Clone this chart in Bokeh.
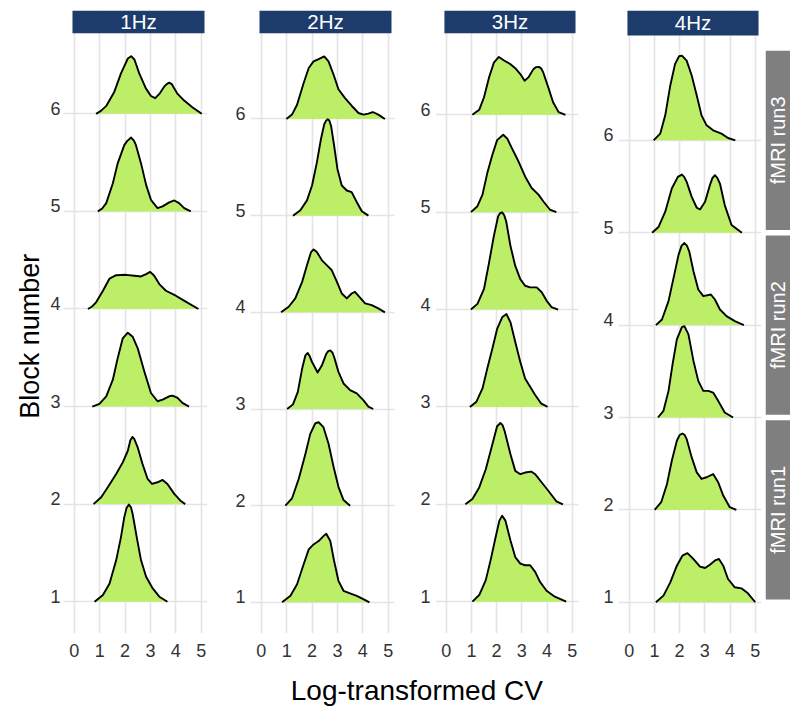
import numpy as np
from bokeh.plotting import figure
from bokeh.models import Range1d, FixedTicker, CustomJSTickFormatter
from bokeh.layouts import row, column
from bokeh.embed import file_html
from bokeh.resources import INLINE
from bokeh.core.properties import value

# ---------------------------------------------------------------- data
FREQS = ["1Hz", "2Hz", "3Hz", "4Hz"]
BLOCKS = [1, 2, 3, 4, 5, 6]
X_TICKS = [0, 1, 2, 3, 4, 5]
RUNS = ["fMRI run1", "fMRI run2", "fMRI run3"]
RUN_LO = [1, 3, 5]
RUN_HI = [3, 5, 7]

# density ridges: log-CV positions and ridge height (in block units)
hz1_b6_x = [0.86, 1.05, 1.26, 1.58, 1.84, 2.11, 2.24, 2.37, 2.56, 2.82, 3.02, 3.19, 3.37, 3.54, 3.64, 3.74, 3.84, 3.90, 4.07, 4.33, 4.65, 5.02]
hz1_b6_h = [0, 0.03, 0.081, 0.227, 0.414, 0.567, 0.591, 0.557, 0.414, 0.261, 0.183, 0.160, 0.210, 0.278, 0.305, 0.319, 0.305, 0.278, 0.204, 0.136, 0.068, 0]
hz1_b5_x = [0.93, 1.10, 1.26, 1.52, 1.71, 1.97, 2.08, 2.24, 2.35, 2.43, 2.63, 2.83, 3.02, 3.28, 3.48, 3.74, 3.94, 4.13, 4.33, 4.59]
hz1_b5_h = [0, 0.03, 0.085, 0.289, 0.492, 0.679, 0.72, 0.757, 0.725, 0.679, 0.492, 0.272, 0.119, 0.034, 0.051, 0.092, 0.112, 0.085, 0.034, 0]
hz1_b4_x = [0.54, 0.70, 0.86, 1.13, 1.39, 1.65, 2.04, 2.37, 2.63, 2.83, 2.99, 3.15, 3.35, 3.61, 4.00, 4.39, 4.89]
hz1_b4_h = [0, 0.025, 0.068, 0.187, 0.312, 0.346, 0.350, 0.340, 0.333, 0.357, 0.380, 0.340, 0.255, 0.187, 0.136, 0.075, 0]
hz1_b3_x = [0.71, 0.99, 1.26, 1.52, 1.71, 1.91, 2.11, 2.30, 2.50, 2.76, 3.02, 3.28, 3.48, 3.74, 3.87, 4.07, 4.26, 4.52]
hz1_b3_h = [0, 0.027, 0.105, 0.275, 0.496, 0.699, 0.757, 0.716, 0.597, 0.360, 0.139, 0.054, 0.071, 0.105, 0.112, 0.088, 0.037, 0]
hz1_b2_x = [0.76, 1.06, 1.32, 1.65, 1.91, 2.11, 2.21, 2.29, 2.37, 2.50, 2.69, 2.89, 3.06, 3.28, 3.48, 3.67, 3.94, 4.20, 4.37]
hz1_b2_h = [0, 0.071, 0.173, 0.309, 0.428, 0.547, 0.655, 0.689, 0.665, 0.580, 0.410, 0.258, 0.207, 0.224, 0.248, 0.207, 0.105, 0.031, 0]
hz1_b1_x = [0.80, 1.13, 1.39, 1.65, 1.84, 1.97, 2.06, 2.15, 2.23, 2.30, 2.46, 2.63, 2.83, 3.09, 3.35, 3.67]
hz1_b1_h = [0, 0.068, 0.187, 0.424, 0.662, 0.866, 0.960, 0.995, 0.970, 0.899, 0.662, 0.424, 0.255, 0.136, 0.051, 0]

hz2_b6_x = [0.99, 1.21, 1.41, 1.67, 1.87, 2.06, 2.26, 2.48, 2.65, 2.85, 3.04, 3.30, 3.56, 3.83, 4.02, 4.22, 4.39, 4.61, 4.87]
hz2_b6_h = [0, 0.045, 0.147, 0.372, 0.527, 0.596, 0.620, 0.647, 0.596, 0.457, 0.308, 0.216, 0.137, 0.062, 0.045, 0.055, 0.072, 0.045, 0]
hz2_b5_x = [1.25, 1.54, 1.80, 2.00, 2.19, 2.35, 2.48, 2.56, 2.62, 2.68, 2.75, 2.87, 3.00, 3.17, 3.37, 3.56, 3.76, 3.96, 4.22]
hz2_b5_h = [0, 0.055, 0.158, 0.312, 0.551, 0.791, 0.945, 0.985, 0.997, 0.985, 0.928, 0.723, 0.483, 0.312, 0.260, 0.243, 0.141, 0.045, 0]
hz2_b4_x = [0.78, 1.08, 1.34, 1.61, 1.80, 1.96, 2.06, 2.19, 2.39, 2.59, 2.78, 2.98, 3.17, 3.37, 3.56, 3.69, 3.89, 4.09, 4.35, 4.61, 4.87]
hz2_b4_h = [0, 0.058, 0.144, 0.315, 0.486, 0.623, 0.651, 0.623, 0.538, 0.486, 0.435, 0.315, 0.195, 0.144, 0.195, 0.212, 0.151, 0.092, 0.075, 0.041, 0]
hz2_b3_x = [1.02, 1.25, 1.44, 1.61, 1.74, 1.83, 1.91, 2.00, 2.22, 2.39, 2.56, 2.64, 2.72, 2.80, 2.87, 3.04, 3.24, 3.50, 3.76, 4.02, 4.22, 4.41]
hz2_b3_h = [0, 0.048, 0.178, 0.418, 0.555, 0.579, 0.545, 0.486, 0.377, 0.452, 0.571, 0.598, 0.606, 0.585, 0.538, 0.384, 0.264, 0.195, 0.161, 0.092, 0.024, 0]
hz2_b2_x = [0.95, 1.21, 1.48, 1.74, 1.93, 2.13, 2.26, 2.45, 2.65, 2.85, 3.04, 3.24, 3.50]
hz2_b2_h = [0, 0.075, 0.281, 0.538, 0.743, 0.853, 0.863, 0.812, 0.640, 0.401, 0.195, 0.058, 0]
hz2_b1_x = [0.82, 1.15, 1.41, 1.67, 1.87, 2.06, 2.26, 2.45, 2.56, 2.72, 2.87, 3.04, 3.24, 3.50, 3.76, 4.02, 4.26]
hz2_b1_h = [0, 0.068, 0.188, 0.394, 0.548, 0.599, 0.634, 0.685, 0.709, 0.634, 0.428, 0.223, 0.120, 0.092, 0.068, 0.034, 0]

hz3_b6_x = [1.04, 1.31, 1.50, 1.70, 1.89, 2.09, 2.28, 2.55, 2.74, 2.94, 3.11, 3.26, 3.46, 3.57, 3.68, 3.77, 3.85, 4.05, 4.24, 4.46, 4.73]
hz3_b6_h = [0, 0.051, 0.180, 0.384, 0.535, 0.594, 0.560, 0.520, 0.479, 0.418, 0.350, 0.384, 0.469, 0.490, 0.492, 0.475, 0.435, 0.282, 0.129, 0.027, 0]
hz3_b5_x = [0.98, 1.24, 1.44, 1.63, 1.83, 2.02, 2.26, 2.42, 2.61, 2.87, 3.13, 3.39, 3.66, 3.85, 4.11, 4.37]
hz3_b5_h = [0, 0.061, 0.180, 0.401, 0.587, 0.740, 0.795, 0.757, 0.655, 0.520, 0.367, 0.248, 0.180, 0.112, 0.027, 0]
hz3_b4_x = [0.98, 1.24, 1.50, 1.70, 1.89, 2.06, 2.14, 2.22, 2.30, 2.38, 2.55, 2.74, 2.94, 3.13, 3.33, 3.59, 3.79, 3.98, 4.18, 4.44]
hz3_b4_h = [0, 0.058, 0.211, 0.482, 0.754, 0.958, 0.990, 0.998, 0.970, 0.907, 0.652, 0.448, 0.312, 0.244, 0.228, 0.228, 0.177, 0.092, 0.024, 0]
hz3_b3_x = [0.94, 1.20, 1.44, 1.63, 1.83, 2.02, 2.22, 2.39, 2.55, 2.74, 2.94, 3.13, 3.33, 3.53, 3.76, 4.02]
hz3_b3_h = [0, 0.054, 0.190, 0.394, 0.598, 0.801, 0.920, 0.954, 0.869, 0.666, 0.462, 0.292, 0.207, 0.122, 0.037, 0]
hz3_b2_x = [0.76, 1.04, 1.31, 1.57, 1.83, 2.02, 2.15, 2.24, 2.32, 2.55, 2.74, 2.94, 3.13, 3.37, 3.53, 3.79, 4.05, 4.37, 4.63]
hz3_b2_h = [0, 0.054, 0.173, 0.360, 0.615, 0.801, 0.835, 0.810, 0.750, 0.513, 0.343, 0.309, 0.326, 0.336, 0.309, 0.224, 0.139, 0.031, 0]
hz3_b1_x = [1.04, 1.31, 1.57, 1.76, 1.96, 2.11, 2.22, 2.35, 2.55, 2.74, 2.94, 3.13, 3.33, 3.53, 3.72, 3.98, 4.31, 4.76]
hz3_b1_h = [0, 0.068, 0.221, 0.424, 0.662, 0.832, 0.883, 0.832, 0.628, 0.458, 0.391, 0.374, 0.374, 0.306, 0.204, 0.112, 0.051, 0]

hz4_b6_x = [0.97, 1.23, 1.43, 1.63, 1.82, 1.98, 2.09, 2.28, 2.48, 2.68, 2.87, 3.07, 3.33, 3.66, 3.92, 4.21]
hz4_b6_h = [0, 0.072, 0.270, 0.594, 0.827, 0.910, 0.917, 0.863, 0.701, 0.486, 0.270, 0.162, 0.108, 0.072, 0.025, 0]
hz4_b5_x = [0.91, 1.17, 1.43, 1.69, 1.93, 2.09, 2.18, 2.28, 2.48, 2.68, 2.81, 3.01, 3.20, 3.30, 3.40, 3.50, 3.60, 3.79, 4.06, 4.47]
hz4_b5_h = [0, 0.065, 0.227, 0.478, 0.604, 0.629, 0.605, 0.550, 0.388, 0.270, 0.252, 0.335, 0.514, 0.590, 0.622, 0.590, 0.532, 0.299, 0.083, 0]
hz4_b4_x = [1.06, 1.30, 1.56, 1.76, 1.96, 2.08, 2.19, 2.29, 2.38, 2.55, 2.74, 2.94, 3.24, 3.40, 3.60, 3.86, 4.19, 4.55]
hz4_b4_h = [0, 0.061, 0.259, 0.511, 0.763, 0.860, 0.888, 0.860, 0.799, 0.583, 0.385, 0.313, 0.331, 0.277, 0.169, 0.097, 0.043, 0]
hz4_b3_x = [1.14, 1.36, 1.56, 1.72, 1.89, 2.09, 2.19, 2.35, 2.55, 2.74, 2.94, 3.14, 3.33, 3.53, 3.79, 4.12]
hz4_b3_h = [0, 0.072, 0.288, 0.576, 0.845, 0.978, 0.989, 0.899, 0.612, 0.396, 0.288, 0.288, 0.270, 0.180, 0.054, 0]
hz4_b2_x = [1.01, 1.27, 1.50, 1.69, 1.89, 2.00, 2.11, 2.20, 2.28, 2.48, 2.68, 2.87, 3.07, 3.33, 3.53, 3.73, 3.99, 4.25]
hz4_b2_h = [0, 0.083, 0.281, 0.532, 0.748, 0.810, 0.827, 0.810, 0.766, 0.568, 0.406, 0.335, 0.353, 0.388, 0.299, 0.155, 0.029, 0]
hz4_b1_x = [1.06, 1.36, 1.63, 1.89, 2.11, 2.31, 2.55, 2.81, 3.01, 3.20, 3.43, 3.56, 3.73, 3.92, 4.19, 4.45, 4.71, 5.00]
hz4_b1_h = [0, 0.072, 0.216, 0.396, 0.504, 0.532, 0.468, 0.385, 0.371, 0.406, 0.457, 0.468, 0.396, 0.252, 0.162, 0.151, 0.097, 0]

RIDGES = {
    "1Hz": {1: (hz1_b1_x, hz1_b1_h), 2: (hz1_b2_x, hz1_b2_h), 3: (hz1_b3_x, hz1_b3_h),
            4: (hz1_b4_x, hz1_b4_h), 5: (hz1_b5_x, hz1_b5_h), 6: (hz1_b6_x, hz1_b6_h)},
    "2Hz": {1: (hz2_b1_x, hz2_b1_h), 2: (hz2_b2_x, hz2_b2_h), 3: (hz2_b3_x, hz2_b3_h),
            4: (hz2_b4_x, hz2_b4_h), 5: (hz2_b5_x, hz2_b5_h), 6: (hz2_b6_x, hz2_b6_h)},
    "3Hz": {1: (hz3_b1_x, hz3_b1_h), 2: (hz3_b2_x, hz3_b2_h), 3: (hz3_b3_x, hz3_b3_h),
            4: (hz3_b4_x, hz3_b4_h), 5: (hz3_b5_x, hz3_b5_h), 6: (hz3_b6_x, hz3_b6_h)},
    "4Hz": {1: (hz4_b1_x, hz4_b1_h), 2: (hz4_b2_x, hz4_b2_h), 3: (hz4_b3_x, hz4_b3_h),
            4: (hz4_b4_x, hz4_b4_h), 5: (hz4_b5_x, hz4_b5_h), 6: (hz4_b6_x, hz4_b6_h)},
}

# ---------------------------------------------------------------- style
FONT = "Liberation Sans"
FILL = "#BCEE68"
NAVY = "#1d3c6b"
STRIP_GREY = "#7f7f7f"
GRID = "#e4e4e4"
TICK_TEXT = "#333333"
# panel x range: the block grid lines run a little past the strip on both sides
X_RANGE = (-0.424, 5.248)
STRIP_X = (-0.07, 5.13)
FIG_H = 672
LABEL_LIFT_PX = 5.5   # block labels sit on top of their grid line

# per-panel geometry: width, left/right/top/bottom borders, y range,
# strip height (px), block label standoff (px)
PANELS = {
    "1Hz": dict(w=186, l=19, r=23, t=10, b=35, y=(0.674, 7.059), strip=23, so=3),
    "2Hz": dict(w=187, l=20, r=23, t=10, b=35, y=(0.678, 7.122), strip=23, so=5),
    "3Hz": dict(w=183, l=17, r=22, t=10, b=35, y=(0.673, 7.071), strip=23, so=5),
    "4Hz": dict(w=162, l=17, r=1, t=8, b=39, y=(0.662, 7.405), strip=25, so=5),
}


def panel(freq):
    g = PANELS[freq]
    y0, y1 = g["y"]
    frame_h = FIG_H - g["t"] - g["b"]
    units_per_px = (y1 - y0) / frame_h

    p = figure(width=g["w"], height=FIG_H, x_range=Range1d(*X_RANGE), y_range=Range1d(y0, y1),
               output_backend="svg", toolbar_location=None,
               min_border_left=g["l"], min_border_right=g["r"],
               min_border_top=g["t"], min_border_bottom=g["b"])
    p.outline_line_color = None
    p.background_fill_color = "white"
    p.border_fill_color = "white"

    p.xaxis.ticker = FixedTicker(ticks=X_TICKS)
    p.xgrid.ticker = FixedTicker(ticks=X_TICKS)
    p.ygrid.ticker = FixedTicker(ticks=BLOCKS)
    # block labels are lifted so they rest on the grid line
    p.yaxis.ticker = FixedTicker(ticks=[b + LABEL_LIFT_PX * units_per_px for b in BLOCKS])
    p.yaxis.formatter = CustomJSTickFormatter(code="return Math.round(tick).toString();")

    for grid in (p.xgrid, p.ygrid):
        grid.grid_line_color = GRID
        grid.grid_line_width = 1.6

    for ax in (p.xaxis, p.yaxis):
        ax.axis_line_color = None
        ax.minor_tick_line_color = None
        ax.major_tick_line_color = None
        ax.major_tick_out = 0
        ax.major_tick_in = 0
        ax.minor_tick_out = 0
        ax.minor_tick_in = 0
        ax.major_label_text_font = FONT
        ax.major_label_text_font_size = "18px"
        ax.major_label_text_color = TICK_TEXT
    p.xaxis.major_label_standoff = 10
    p.yaxis.major_label_standoff = g["so"]

    # ridges, drawn top to bottom so lower ones sit in front
    for b in sorted(BLOCKS, reverse=True):
        xs, hs = RIDGES[freq][b]
        ys = [b + h for h in hs]
        p.patch(xs, ys, fill_color=FILL, line_color=None)
        p.line(xs, ys, line_color="black", line_width=1.9, line_join="round")

    # facet strip across the top of the panel
    strip_bottom = y1 - g["strip"] * units_per_px
    p.quad(left=[STRIP_X[0]], right=[STRIP_X[1]], bottom=[strip_bottom], top=[y1],
           fill_color=NAVY, line_color=None)
    p.text(x=[(STRIP_X[0] + STRIP_X[1]) / 2], y=[(strip_bottom + y1) / 2], text=[freq],
           text_align="center", text_baseline="middle", text_color="white",
           text_font=value(FONT), text_font_size="20.5px")
    return p


panels = [panel(f) for f in FREQS]

# run strips on the right of the last panel
g4 = PANELS["4Hz"]
runs = figure(width=28, height=FIG_H, x_range=Range1d(0, 1), y_range=Range1d(*g4["y"]),
              output_backend="svg", toolbar_location=None,
              x_axis_location=None, y_axis_location=None,
              min_border_left=3, min_border_right=0,
              min_border_top=g4["t"], min_border_bottom=g4["b"])
runs.outline_line_color = None
runs.grid.grid_line_color = None
gap = 0.03
runs.quad(left=0, right=1, bottom=[lo + gap for lo in RUN_LO], top=[hi - gap for hi in RUN_HI],
          fill_color=STRIP_GREY, line_color=None)
runs.text(x=[0.5] * len(RUNS), y=[(lo + hi) / 2 for lo, hi in zip(RUN_LO, RUN_HI)], text=RUNS,
          angle=np.pi / 2, text_align="center", text_baseline="middle", text_color="white",
          text_font=value(FONT), text_font_size="20px")

# y axis title
ylab = figure(width=44, height=FIG_H, x_range=Range1d(0, 1), y_range=Range1d(0, 1),
              output_backend="svg", toolbar_location=None,
              x_axis_location=None, y_axis_location=None, min_border=0)
ylab.outline_line_color = None
ylab.grid.grid_line_color = None
ylab.text(x=[0.68], y=[0.477], text=["Block number"], angle=np.pi / 2,
          text_align="center", text_baseline="middle", text_color="black",
          text_font=value(FONT), text_font_size="27px")

# x axis title
xlab = figure(width=790, height=35, x_range=Range1d(0, 1), y_range=Range1d(0, 1),
              output_backend="svg", toolbar_location=None,
              x_axis_location=None, y_axis_location=None, min_border=0)
xlab.outline_line_color = None
xlab.grid.grid_line_color = None
xlab.text(x=[0.527], y=[0.49], text=["Log-transformed CV"],
          text_align="center", text_baseline="middle", text_color="black",
          text_font=value(FONT), text_font_size="28px")

layout = column(row(ylab, *panels, runs), xlab)

open("out.html", "w").write(file_html(layout, INLINE))
